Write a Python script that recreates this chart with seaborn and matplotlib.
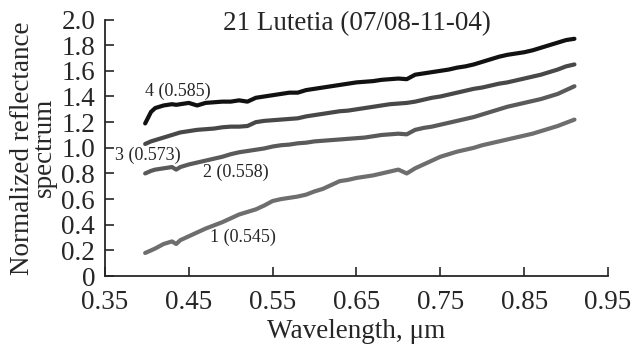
import numpy as np
import pandas as pd
import matplotlib
matplotlib.use("Agg")
import matplotlib.pyplot as plt
import seaborn as sns
from matplotlib.ticker import FuncFormatter

wavelength = [0.398, 0.405, 0.41, 0.42, 0.43, 0.435, 0.44, 0.45, 0.46, 0.47, 0.48, 0.49,
              0.50, 0.51, 0.52, 0.53, 0.54, 0.55, 0.56, 0.57, 0.58, 0.59, 0.60, 0.61,
              0.62, 0.63, 0.64, 0.65, 0.66, 0.67, 0.68, 0.69, 0.70, 0.71, 0.72, 0.73,
              0.74, 0.75, 0.76, 0.77, 0.78, 0.79, 0.80, 0.81, 0.82, 0.83, 0.84, 0.85,
              0.86, 0.87, 0.88, 0.89, 0.90, 0.91]

spec4 = [1.19, 1.28, 1.31, 1.33, 1.34, 1.335, 1.34, 1.35, 1.33, 1.35, 1.355, 1.36,
         1.36, 1.37, 1.36, 1.39, 1.40, 1.41, 1.42, 1.43, 1.43, 1.45, 1.46, 1.47,
         1.48, 1.49, 1.50, 1.51, 1.515, 1.52, 1.53, 1.535, 1.54, 1.535, 1.57, 1.58,
         1.59, 1.60, 1.61, 1.625, 1.635, 1.65, 1.67, 1.69, 1.71, 1.725, 1.735, 1.745,
         1.76, 1.78, 1.80, 1.82, 1.84, 1.85]
spec3 = [1.03, 1.05, 1.06, 1.08, 1.10, 1.11, 1.12, 1.13, 1.14, 1.145, 1.15, 1.16,
         1.165, 1.165, 1.17, 1.20, 1.21, 1.215, 1.22, 1.225, 1.23, 1.245, 1.255, 1.265,
         1.275, 1.285, 1.29, 1.30, 1.31, 1.32, 1.33, 1.34, 1.345, 1.35, 1.36, 1.375,
         1.39, 1.40, 1.415, 1.43, 1.445, 1.46, 1.47, 1.485, 1.50, 1.51, 1.525, 1.54,
         1.555, 1.57, 1.59, 1.61, 1.635, 1.65]
spec2 = [0.80, 0.82, 0.83, 0.84, 0.85, 0.83, 0.85, 0.87, 0.885, 0.90, 0.915, 0.93,
         0.95, 0.965, 0.975, 0.985, 0.995, 1.01, 1.02, 1.025, 1.035, 1.04, 1.05, 1.055,
         1.06, 1.065, 1.07, 1.075, 1.08, 1.09, 1.10, 1.105, 1.11, 1.105, 1.14, 1.155,
         1.165, 1.18, 1.195, 1.21, 1.225, 1.24, 1.26, 1.28, 1.30, 1.32, 1.335, 1.35,
         1.365, 1.38, 1.40, 1.42, 1.45, 1.48]
spec1 = [0.18, 0.20, 0.215, 0.25, 0.27, 0.25, 0.28, 0.31, 0.34, 0.37, 0.395, 0.42,
         0.45, 0.48, 0.50, 0.52, 0.55, 0.585, 0.60, 0.61, 0.62, 0.635, 0.66, 0.68,
         0.71, 0.74, 0.75, 0.765, 0.775, 0.785, 0.80, 0.815, 0.83, 0.80, 0.84, 0.87,
         0.90, 0.93, 0.95, 0.97, 0.985, 1.00, 1.02, 1.035, 1.05, 1.065, 1.08, 1.095,
         1.11, 1.13, 1.15, 1.17, 1.195, 1.22]

series_names = ["1", "2", "3", "4"]
series_labels = ["1 (0.545)", "2 (0.558)", "3 (0.573)", "4 (0.585)"]
x_ticks = [0.35, 0.45, 0.55, 0.65, 0.75, 0.85, 0.95]
y_ticks = [0, 0.2, 0.4, 0.6, 0.8, 1.0, 1.2, 1.4, 1.6, 1.8, 2.0]

sns.set_style("ticks")
plt.rcParams['font.family'] = ['Liberation Serif', 'DejaVu Serif']

frames = []
for name, vals in zip(series_names, [spec1, spec2, spec3, spec4]):
    frames.append(pd.DataFrame({"wl": wavelength, "val": vals, "s": name}))
df = pd.concat(frames, ignore_index=True)

palette = {"1": "#6e6e6e", "2": "#5a5a5a", "3": "#484848", "4": "#111111"}

fig = plt.figure(figsize=(6.32, 3.49), dpi=100)
ax = fig.add_axes([0.166, 0.209, 0.796, 0.735])
sns.lineplot(data=df, x="wl", y="val", hue="s", palette=palette, linewidth=3.0,
             legend=False, ax=ax)

ax.set_xlim(0.35, 0.95)
ax.set_ylim(0, 2.0)
ax.set_xticks(x_ticks)
ax.set_yticks(y_ticks)
ax.xaxis.set_major_formatter(FuncFormatter(lambda v, p: f"{v:.2f}"))
ax.yaxis.set_major_formatter(FuncFormatter(lambda v, p: "0" if abs(v) < 1e-9 else f"{v:.1f}"))
ax.tick_params(direction='in', length=6.5, width=1.2, labelsize=19.5)
ax.tick_params(axis='y', pad=7)
ax.tick_params(axis='x', pad=10)
for side in ["top", "right"]:
    ax.spines[side].set_visible(False)
for side in ["left", "bottom"]:
    ax.spines[side].set_linewidth(1.3)

ax.set_xlabel("Wavelength, μm", fontsize=19.5, labelpad=3)
ax.set_ylabel("Normalized reflectance\nspectrum", fontsize=19.5, labelpad=3, linespacing=0.85)

ax.text(0.5, 0.985, "21 Lutetia (07/08-11-04)", transform=ax.transAxes,
        ha='center', va='center', fontsize=19.5)

label_pos = [(0.475, 0.30), (0.467, 0.81), (0.362, 0.945), (0.398, 1.44)]
for lab, (lx, ly) in zip(series_labels, label_pos):
    ax.text(lx, ly, lab, fontsize=13, ha='left', va='center')

fig.savefig("out.png", dpi=100)
